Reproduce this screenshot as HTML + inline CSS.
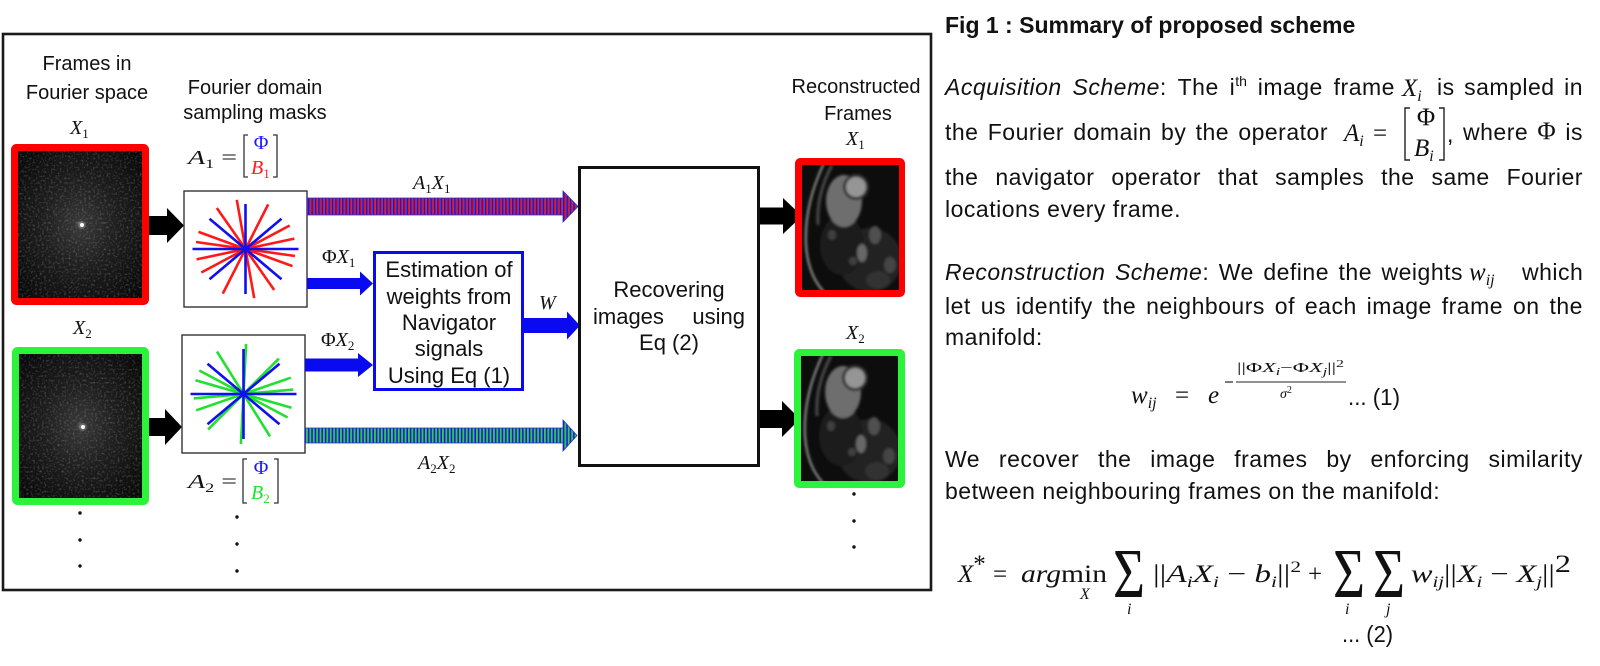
<!DOCTYPE html>
<html><head><meta charset="utf-8">
<style>
html,body{margin:0;padding:0;background:#fff;}
body{width:1600px;height:666px;position:relative;overflow:hidden;}
.t{position:absolute;font-family:"Liberation Sans",sans-serif;font-size:23px;letter-spacing:0.5px;line-height:30px;color:#111;display:flex;justify-content:space-between;white-space:nowrap;}
.b{position:absolute;font-family:"Liberation Sans",sans-serif;font-size:23px;letter-spacing:0.5px;line-height:30px;color:#111;white-space:nowrap;}
.sup{font-size:14px;position:relative;top:-9px;letter-spacing:0;}
.ser{font-family:"Liberation Serif",serif;font-size:25px;}
svg text{font-family:"Liberation Sans",sans-serif;fill:#111;}
svg .m{font-family:"Liberation Serif",serif;font-style:italic;font-size:20px;}
svg .mu{font-family:"Liberation Serif",serif;font-size:20px;}
svg .sb{font-family:"Liberation Serif",serif;font-style:normal;font-size:13px;}
svg .M{font-family:"Liberation Serif",serif;font-style:italic;font-size:25px;}
svg .MU{font-family:"Liberation Serif",serif;font-style:normal;font-size:25px;}
svg .ms{font-family:"Liberation Serif",serif;font-style:italic;font-size:16px;}
</style></head>
<body>
<svg width="1600" height="666" viewBox="0 0 1600 666" style="position:absolute;left:0;top:0">
<defs>
  <pattern id="rb" width="3.4" height="40" patternUnits="userSpaceOnUse"><rect width="1.7" height="40" fill="#e81212"/><rect x="1.7" width="1.7" height="40" fill="#1818d8"/></pattern>
  <pattern id="gb" width="3.4" height="40" patternUnits="userSpaceOnUse"><rect width="1.7" height="40" fill="#22d63a"/><rect x="1.7" width="1.7" height="40" fill="#1818d8"/></pattern>
  <radialGradient id="fk" cx="0.5" cy="0.5" r="0.62">
    <stop offset="0" stop-color="#5a5a5a"/>
    <stop offset="0.06" stop-color="#353535"/>
    <stop offset="0.45" stop-color="#1e1e1e"/>
    <stop offset="1" stop-color="#0a0a0a"/>
  </radialGradient>
  <filter id="nz" x="0" y="0" width="1" height="1">
    <feTurbulence type="fractalNoise" baseFrequency="0.45" numOctaves="2" seed="7"/>
    <feColorMatrix type="matrix" values="0 0 0 0 0.55  0 0 0 0 0.55  0 0 0 0 0.55  0 0 0 1.6 -0.8"/>
  </filter>
  <filter id="bl" x="-0.1" y="-0.1" width="1.2" height="1.2"><feGaussianBlur stdDeviation="1.3"/></filter>
  <clipPath id="mrc"><rect x="0" y="0" width="97" height="125"/></clipPath>
  <g id="mr">
    <g clip-path="url(#mrc)">
      <rect x="0" y="0" width="97" height="125" fill="#0d0d0d"/>
      <g filter="url(#bl)">
        <ellipse cx="68" cy="95" rx="32" ry="32" fill="#242424"/>
        <ellipse cx="40" cy="80" rx="22" ry="30" fill="#1c1c1c"/>
        <path d="M22,-2 Q2,40 4,80 Q6,110 22,127" stroke="#9a9a9a" stroke-width="2" fill="none"/>
        <path d="M30,0 Q14,30 16,60" stroke="#4a4a4a" stroke-width="3" fill="none"/>
        <ellipse cx="42" cy="36" rx="18" ry="26" fill="#6e6e6e"/>
        <circle cx="54" cy="22" r="13" fill="#333"/>
        <circle cx="54" cy="22" r="10" fill="#959595"/>
        <ellipse cx="73" cy="70" rx="6" ry="9" fill="#505050"/>
        <ellipse cx="60" cy="88" rx="5" ry="9" fill="#686868"/>
        <ellipse cx="88" cy="100" rx="6" ry="8" fill="#454545"/>
        <ellipse cx="51" cy="96" rx="4" ry="4" fill="#404040"/>
        <ellipse cx="76" cy="115" rx="12" ry="9" fill="#333"/>
        <ellipse cx="30" cy="70" rx="4" ry="5" fill="#404040"/>
      </g>
    </g>
  </g>
</defs>

<!-- outer box -->
<rect x="3" y="34" width="928" height="556" fill="none" stroke="#1a1a1a" stroke-width="2.6"/>

<!-- headers -->
<text x="87" y="70" font-size="20" text-anchor="middle">Frames in</text>
<text x="87" y="99" font-size="20" text-anchor="middle">Fourier space</text>
<text x="255" y="94" font-size="20" text-anchor="middle">Fourier domain</text>
<text x="255" y="119" font-size="20" text-anchor="middle">sampling masks</text>
<text x="856" y="93" font-size="20" text-anchor="middle">Reconstructed</text>
<text x="858" y="120" font-size="20" text-anchor="middle">Frames</text>

<!-- X labels -->
<text x="70" y="134" class="m">X<tspan class="sb" dy="4">1</tspan></text>
<text x="73" y="334" class="m">X<tspan class="sb" dy="4">2</tspan></text>
<text x="846" y="145" class="m">X<tspan class="sb" dy="4">1</tspan></text>
<text x="846" y="339" class="m">X<tspan class="sb" dy="4">2</tspan></text>

<!-- A1 matrix -->
<text x="188" y="164" class="m" textLength="49" lengthAdjust="spacingAndGlyphs">A<tspan class="sb" dy="4">1</tspan><tspan class="mu" dy="-4" font-style="normal"> =</tspan></text>
<path d="M248,135 H244 V177 H248 M273,135 H277 V177 H273" stroke="#333" stroke-width="1.3" fill="none"/>
<text x="261" y="149" class="mu" text-anchor="middle" style="fill:#1a1aff">Φ</text>
<text x="251" y="174" class="m" style="fill:#ff1a1a">B<tspan class="sb" dy="4" style="fill:#ff1a1a">1</tspan></text>

<!-- A2 matrix -->
<text x="188" y="488" class="m" textLength="49" lengthAdjust="spacingAndGlyphs">A<tspan class="sb" dy="4">2</tspan><tspan class="mu" dy="-4" font-style="normal"> =</tspan></text>
<path d="M247,459 H243 V503 H247 M274,459 H278 V503 H274" stroke="#333" stroke-width="1.3" fill="none"/>
<text x="261" y="474" class="mu" text-anchor="middle" style="fill:#1a1aff">Φ</text>
<text x="251" y="499" class="m" style="fill:#22e030">B<tspan class="sb" dy="4" style="fill:#22e030">2</tspan></text>

<!-- left fourier frames -->
<rect x="14.5" y="147.5" width="131" height="154" rx="2" fill="url(#fk)" stroke="#ff0000" stroke-width="7"/>
<rect x="18" y="151" width="124" height="147" filter="url(#nz)" opacity="0.5"/>
<circle cx="82" cy="225" r="4" fill="#9a9a9a" opacity="0.4"/>
<circle cx="82" cy="225" r="2" fill="#fff"/>

<rect x="15.5" y="350.5" width="130" height="151" rx="2" fill="url(#fk)" stroke="#2bf23a" stroke-width="7"/>
<rect x="19" y="354" width="123" height="144" filter="url(#nz)" opacity="0.5"/>
<circle cx="83" cy="427" r="4" fill="#9a9a9a" opacity="0.4"/>
<circle cx="83" cy="427" r="2" fill="#fff"/>

<!-- black arrows left -->
<polygon points="149,216 167,216 167,208 184,225.5 167,243 167,235 149,235" fill="#000"/>
<polygon points="149,418 165,418 165,409 182,427 165,445 165,436 149,436" fill="#000"/>

<!-- mask 1 -->
<rect x="184" y="191" width="123" height="116" fill="#fff" stroke="#333" stroke-width="1.4"/>
<g stroke="#ff1a1a" stroke-width="2.6">
  <line x1="196" y1="242" x2="295" y2="256"/>
  <line x1="198.5" y1="231.9" x2="292.5" y2="266.1"/>
  <line x1="216.8" y1="208" x2="274.2" y2="290"/>
  <line x1="236.8" y1="199.8" x2="254.2" y2="298.2"/>
  <line x1="268.2" y1="204.4" x2="222.8" y2="293.6"/>
  <line x1="289.7" y1="225.5" x2="201.3" y2="272.5"/>
  <line x1="294.4" y1="238.6" x2="196.6" y2="259.4"/>
</g>
<g stroke="#1010ee" stroke-width="2.6">
  <line x1="192.5" y1="249" x2="298.5" y2="249"/>
  <line x1="245.5" y1="204" x2="245.5" y2="294"/>
  <line x1="209.5" y1="218.8" x2="281.5" y2="279.2"/>
  <line x1="281.5" y1="218.8" x2="209.5" y2="279.2"/>
</g>

<!-- mask 2 -->
<rect x="182" y="335" width="123" height="118" fill="#fff" stroke="#333" stroke-width="1.4"/>
<g stroke="#22e030" stroke-width="2.6">
  <line x1="195.5" y1="380.2" x2="291.5" y2="407.8"/>
  <line x1="217" y1="351.6" x2="270" y2="436.4"/>
  <line x1="293.3" y1="389.6" x2="193.7" y2="398.4"/>
  <line x1="290.8" y1="377.7" x2="196.2" y2="410.3"/>
  <line x1="246.1" y1="344" x2="240.9" y2="444"/>
  <line x1="278.9" y1="358.6" x2="208.1" y2="429.4"/>
  <line x1="199.3" y1="370.5" x2="287.7" y2="417.5"/>
</g>
<g stroke="#1010ee" stroke-width="2.6">
  <line x1="190.5" y1="394" x2="296.5" y2="394"/>
  <line x1="243.5" y1="349" x2="243.5" y2="439"/>
  <line x1="207.5" y1="363.8" x2="279.5" y2="424.2"/>
  <line x1="279.5" y1="363.8" x2="207.5" y2="424.2"/>
</g>

<!-- striped arrows -->
<polygon points="307,198 563,198 563,191 578,206.5 563,222 563,215 307,215" fill="url(#rb)" stroke="#2a2ad8" stroke-width="0.8"/>
<polygon points="305,428 563,428 563,420 577,435.5 563,451 563,443 305,443" fill="url(#gb)" stroke="#2a2ad8" stroke-width="0.8"/>
<text x="413" y="189" class="m">A<tspan class="sb" dy="4">1</tspan><tspan dy="-4">X</tspan><tspan class="sb" dy="4">1</tspan></text>
<text x="418" y="469" class="m">A<tspan class="sb" dy="4">2</tspan><tspan dy="-4">X</tspan><tspan class="sb" dy="4">2</tspan></text>

<!-- blue arrows -->
<polygon points="307,278 360,278 360,271.5 373,283.5 360,295.5 360,289 307,289" fill="#0a0af0"/>
<polygon points="305,358.5 358,358.5 358,353 373,365 358,377 358,371.5 305,371.5" fill="#0a0af0"/>
<polygon points="524,318 567,318 567,311.5 580,325.5 567,339.5 567,333 524,333" fill="#0a0af0"/>
<text x="322" y="263" class="m"><tspan class="mu" font-style="normal">Φ</tspan>X<tspan class="sb" dy="4">1</tspan></text>
<text x="321" y="346" class="m"><tspan class="mu" font-style="normal">Φ</tspan>X<tspan class="sb" dy="4">2</tspan></text>
<text x="539" y="309" class="m">W</text>

<!-- estimation box -->
<rect x="374.5" y="252.5" width="148" height="137" fill="#fff" stroke="#0a0af0" stroke-width="3"/>
<text x="449" y="277" font-size="22" text-anchor="middle">Estimation of</text>
<text x="449" y="304" font-size="22" text-anchor="middle">weights from</text>
<text x="449" y="330" font-size="22" text-anchor="middle">Navigator</text>
<text x="449" y="356" font-size="22" text-anchor="middle">signals</text>
<text x="449" y="383" font-size="22" text-anchor="middle">Using Eq (1)</text>

<!-- recovering box -->
<rect x="579.5" y="167.5" width="179" height="298" fill="#fff" stroke="#111" stroke-width="3"/>
<text x="669" y="297" font-size="22" text-anchor="middle">Recovering</text>
<text x="593" y="324" font-size="22">images</text>
<text x="745" y="324" font-size="22" text-anchor="end">using</text>
<text x="669" y="350" font-size="22" text-anchor="middle">Eq (2)</text>

<!-- black arrows right -->
<polygon points="760,207.5 783,207.5 783,198 802,216 783,234 783,224.5 760,224.5" fill="#000"/>
<polygon points="760,410 782,410 782,401 800,419 782,437 782,428 760,428" fill="#000"/>

<!-- right frames -->
<rect x="798.5" y="161.5" width="103" height="132" rx="2" fill="#0d0d0d" stroke="#ff0000" stroke-width="7"/>
<use href="#mr" x="802" y="165"/>
<rect x="797.5" y="352.5" width="104" height="132" rx="2" fill="#0d0d0d" stroke="#2bf23a" stroke-width="7"/>
<use href="#mr" x="801" y="356"/>

<!-- dots -->
<g fill="#111">
<circle cx="80" cy="513" r="1.7"/><circle cx="80" cy="540" r="1.7"/><circle cx="80" cy="566" r="1.7"/>
<circle cx="237" cy="517" r="1.7"/><circle cx="237" cy="544" r="1.7"/><circle cx="237" cy="571" r="1.7"/>
<circle cx="854" cy="494" r="1.7"/><circle cx="854" cy="521" r="1.7"/><circle cx="854" cy="547" r="1.7"/>
</g>

<!-- inline math in right text -->
<text x="1402" y="96" class="M">X<tspan class="ms" dy="5">i</tspan></text>

<text x="1344" y="141" class="M">A<tspan class="ms" dy="5">i</tspan></text>
<text x="1373" y="141" class="MU">=</text>
<path d="M1410,108 H1405 V160 H1410 M1439,108 H1444 V160 H1439" stroke="#222" stroke-width="1.4" fill="none"/>
<text x="1426" y="125" class="MU" text-anchor="middle">Φ</text>
<text x="1414" y="156" class="M">B<tspan class="ms" dy="5">i</tspan></text>
<text x="1447" y="142" font-size="23">,</text>

<text x="1469" y="280" class="M">w<tspan class="ms" dy="5">ij</tspan></text>

<!-- formula 1 -->
<text x="1131" y="403" class="M">w<tspan class="ms" dy="5">ij</tspan></text>
<text x="1175" y="403" class="MU">=</text>
<text x="1208" y="403" class="M">e</text>
<line x1="1225" y1="382" x2="1233" y2="382" stroke="#222" stroke-width="1.2"/>
<text x="1237" y="372" font-size="14" textLength="107" lengthAdjust="spacingAndGlyphs" style="font-family:'Liberation Serif',serif">||Φ<tspan font-style="italic">X</tspan><tspan font-size="10" font-style="italic" dy="3">i</tspan><tspan dy="-3">−Φ</tspan><tspan font-style="italic">X</tspan><tspan font-size="10" font-style="italic" dy="3">j</tspan><tspan dy="-3">||</tspan><tspan font-size="10" dy="-5">2</tspan></text>
<line x1="1236" y1="382" x2="1346" y2="382" stroke="#222" stroke-width="1"/>
<text x="1280" y="398" font-size="14" style="font-family:'Liberation Serif',serif;font-style:italic">σ<tspan font-size="10" font-style="normal" dy="-5">2</tspan></text>
<text x="1348" y="405" font-size="23" textLength="52" lengthAdjust="spacingAndGlyphs">... (1)</text>

<!-- formula 2 -->
<text x="958" y="582" class="M">X<tspan class="MU" font-size="16" dy="-10">*</tspan></text>
<text x="993" y="582" class="MU">=</text>
<text x="1021" y="582" class="M" textLength="40" lengthAdjust="spacingAndGlyphs">arg</text>
<text x="1061" y="582" class="MU" textLength="46" lengthAdjust="spacingAndGlyphs">min</text>
<text x="1080" y="599" class="ms">X</text>
<text transform="translate(1113,597) scale(1.1,1.4)" font-size="50" style="font-family:'Liberation Serif',serif">Σ</text>
<text x="1127" y="614" class="ms">i</text>
<text x="1153" y="582" class="MU" textLength="148" lengthAdjust="spacingAndGlyphs">||<tspan font-style="italic">A</tspan><tspan class="ms" dy="5">i</tspan><tspan font-style="italic" dy="-5">X</tspan><tspan class="ms" dy="5">i</tspan><tspan dy="-5"> − </tspan><tspan font-style="italic">b</tspan><tspan class="ms" dy="5">i</tspan><tspan dy="-5">||</tspan><tspan font-size="16" dy="-10">2</tspan></text>
<text x="1308" y="582" class="MU">+</text>
<text transform="translate(1333,597) scale(1.1,1.4)" font-size="50" style="font-family:'Liberation Serif',serif">Σ</text>
<text transform="translate(1373,597) scale(1.1,1.4)" font-size="50" style="font-family:'Liberation Serif',serif">Σ</text>
<text x="1345" y="614" class="ms">i</text>
<text x="1386" y="614" class="ms">j</text>
<text x="1411" y="582" class="M" textLength="160" lengthAdjust="spacingAndGlyphs">w<tspan class="ms" dy="5">ij</tspan><tspan class="MU" dy="-5">||</tspan>X<tspan class="ms" dy="5">i</tspan><tspan class="MU" dy="-5"> − </tspan>X<tspan class="ms" dy="5">j</tspan><tspan class="MU" dy="-5">||</tspan><tspan class="MU" font-size="16" dy="-10">2</tspan></text>
<text x="1342" y="642" font-size="23" textLength="51" lengthAdjust="spacingAndGlyphs">... (2)</text>
</svg>

<!-- right-side text -->
<div class="b" style="left:945px;top:10px;font-weight:bold;font-size:23px;letter-spacing:0;">Fig 1 : Summary of proposed scheme</div>

<div class="t" style="left:945px;top:72px;width:450px;"><span><i>Acquisition</i></span><span><i>Scheme</i>:</span><span>The</span><span>i<span class="sup">th</span></span><span>image</span><span>frame</span></div>
<div class="t" style="left:1437px;top:72px;width:146px;"><span>is</span><span>sampled</span><span>in</span></div>

<div class="t" style="left:945px;top:117px;width:383px;"><span>the</span><span>Fourier</span><span>domain</span><span>by</span><span>the</span><span>operator</span></div>
<div class="t" style="left:1463px;top:117px;width:120px;"><span>where</span><span class="ser">Φ</span><span>is</span></div>

<div class="t" style="left:945px;top:162px;width:638px;"><span>the</span><span>navigator</span><span>operator</span><span>that</span><span>samples</span><span>the</span><span>same</span><span>Fourier</span></div>
<div class="b" style="left:945px;top:194px;">locations every frame.</div>

<div class="t" style="left:945px;top:257px;width:518px;"><span><i>Reconstruction</i></span><span><i>Scheme</i>:</span><span>We</span><span>define</span><span>the</span><span>weights</span></div>
<div class="b" style="left:1522px;top:257px;">which</div>

<div class="t" style="left:945px;top:291px;width:638px;"><span>let</span><span>us</span><span>identify</span><span>the</span><span>neighbours</span><span>of</span><span>each</span><span>image</span><span>frame</span><span>on</span><span>the</span></div>
<div class="b" style="left:945px;top:322px;">manifold:</div>

<div class="t" style="left:945px;top:444px;width:638px;"><span>We</span><span>recover</span><span>the</span><span>image</span><span>frames</span><span>by</span><span>enforcing</span><span>similarity</span></div>
<div class="b" style="left:945px;top:476px;">between neighbouring frames on the manifold:</div>
</body></html>
